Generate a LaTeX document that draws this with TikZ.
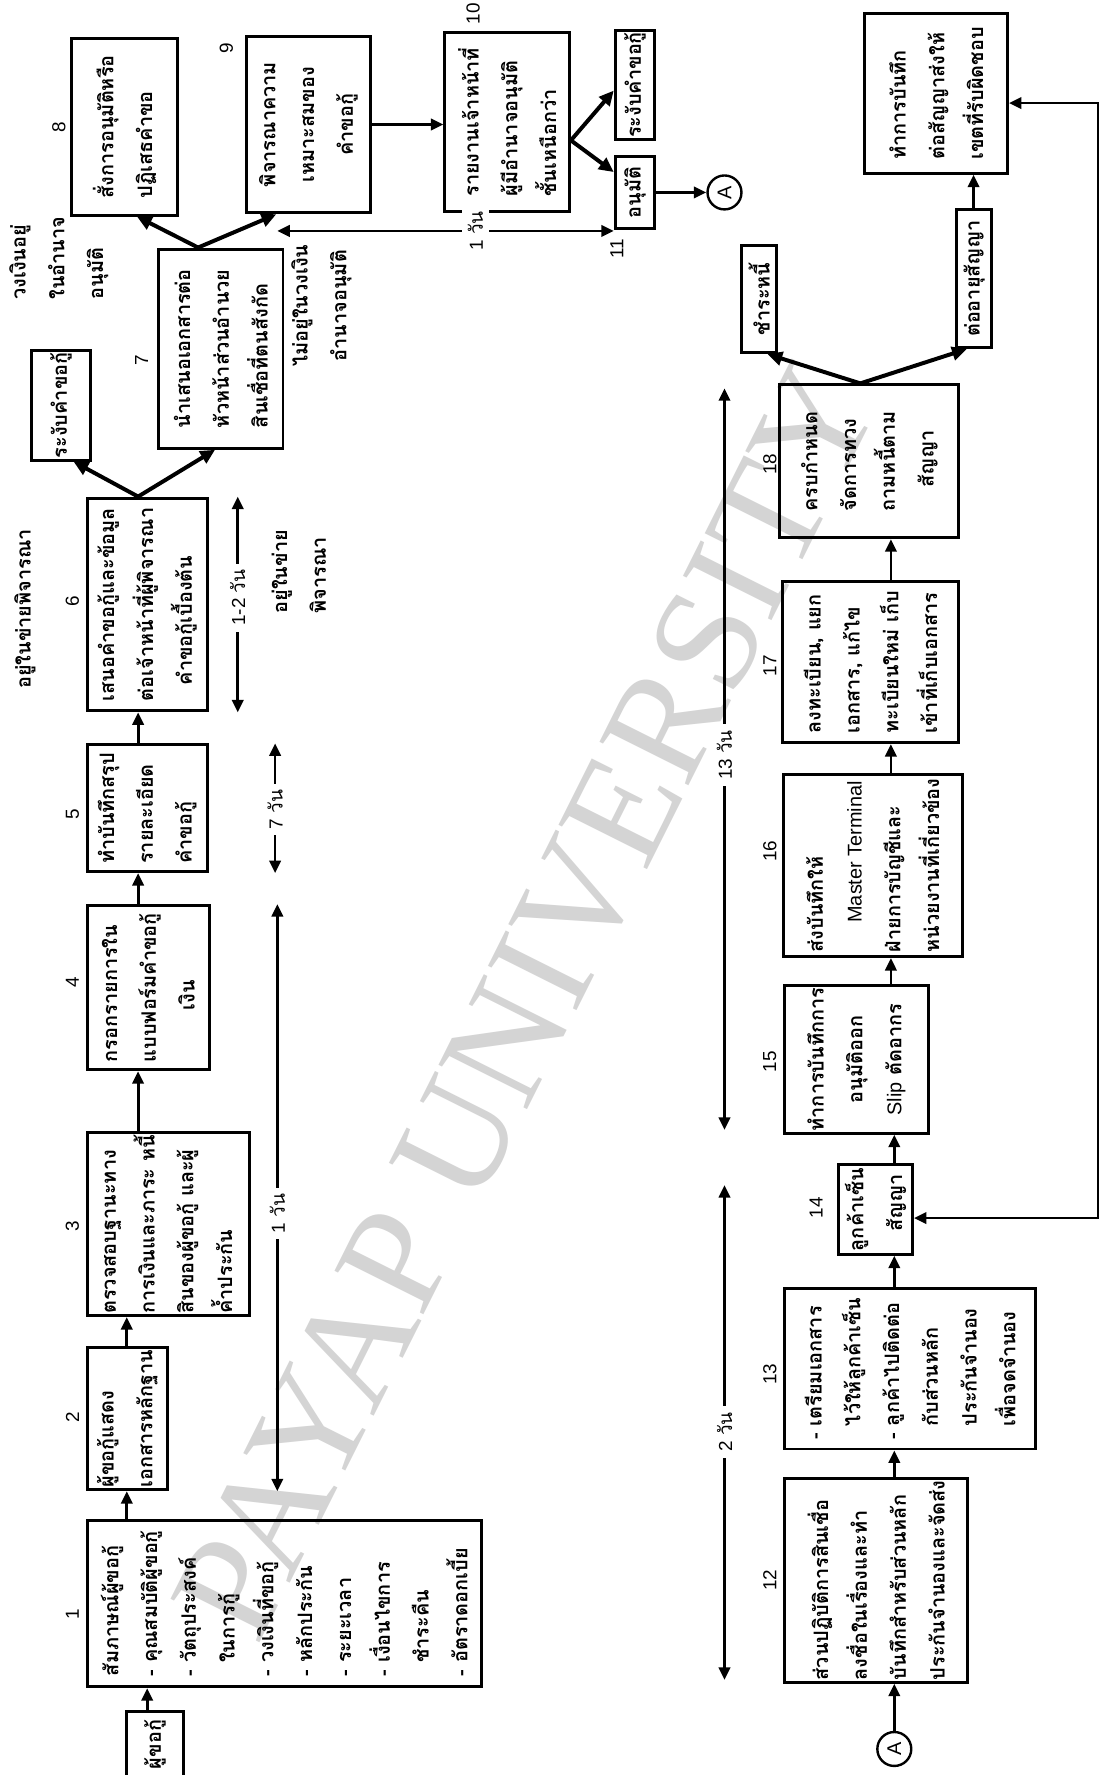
\documentclass[tikz,border=0pt]{standalone}
\usepackage{fontspec}
\setmainfont{Liberation Sans}
\newfontfamily\thai[Script=Thai]{Loma}
\newfontfamily\wmserif{Liberation Serif}
\usetikzlibrary{arrows.meta}
\begin{document}
\begin{tikzpicture}[x=0.02cm,y=-0.02cm,
  wh/.style 2 args={minimum height=#1*0.02cm, minimum width=#2*0.02cm},
  box/.style={draw, line width=1.5pt, rotate=90, inner sep=1pt, align=left,
    font=\thai\bfseries\fontsize{10}{19.5}\selectfont},
  cbox/.style={box, align=center},
  num/.style={rotate=90, inner sep=0pt, font=\fontsize{9.5}{9.5}\selectfont},
  ftxt/.style={rotate=90, inner sep=0pt, align=left, font=\thai\bfseries\fontsize{10}{19.5}\selectfont},
  tlab/.style={rotate=90, fill=white, inner sep=3pt, font=\fontsize{9.5}{9.5}\selectfont},
  circ/.style={circle, draw, line width=1.2pt, minimum size=0.6cm, inner sep=0pt, rotate=90, font=\fontsize{10}{10}\selectfont},
  arr/.style={line width=1.4pt, -{Triangle[length=0.22cm,width=0.2cm]}},
  farr/.style={line width=2pt, -{Triangle[length=0.26cm,width=0.24cm]}},
  darr/.style={line width=1.4pt, {Triangle[length=0.22cm,width=0.2cm]}-{Triangle[length=0.22cm,width=0.2cm]}},
]
\fill[white] (0,0) rectangle (983,1568);
\useasboundingbox (0,0) rectangle (983,1568);

% watermark
\node[rotate=63.4, text=black!17, font=\wmserif\fontsize{76}{76}\selectfont] (wm) at (465,885) {PAYAP UNIVERSITY};

% helper coordinates
\foreach \v in {65,112,121,122,130,175,190,210,243,244,245,640,678,760,787,790,854,860,970}
  \coordinate (x\v) at (\v,0);
\foreach \v in {80,91,110,124,152,170,204,1076}
  \coordinate (y\v) at (0,\v);

% ---------- upper row ----------
\node[box, wh={50}{58}] (n0) at (137,1541) {ผู้ขอกู้};
\node[box, wh={348}{147}] (b1) at (251,1416.5) {สัมภาษณ์ผู้ขอกู้\\
- คุณสมบัติผู้ขอกู้\\
- วัตถุประสงค์\\
\phantom{- }ในการกู้\\
- วงเงินที่ขอกู้\\
- หลักประกัน\\
- ระยะเวลา\\
- เงื่อนไขการ\\
\phantom{- }ชำระคืน\\
- อัตราดอกเบี้ย};
\node[box, wh={71}{126}] (b2) at (112.5,1253) {ผู้ขอกู้แสดง\\เอกสารหลักฐาน};
\node[box, wh={143}{157}] (b3) at (148.5,1081.5) {ตรวจสอบฐานะทาง\\การเงินและภาระ หนี้\\สินของผู้ขอกู้ และผู้\\ค้ำประกัน};
\node[box, wh={108}{145}] (b4) at (131,872.5) {กรอกรายการใน\\แบบฟอร์มคำขอกู้\\\hspace*{2.6em}เงิน};
\node[box, wh={106}{112}] (b5) at (130,714) {ทำบันทึกสรุป\\รายละเอียด\\คำขอกู้};
\node[box, wh={106}{188}] (b6) at (130,534) {เสนอคำขอกู้และข้อมูล\\ต่อเจ้าหน้าที่ผู้พิจารณา\\\hspace*{0.8em}คำขอกู้เบื้องต้น};
\node[box, wh={52}{78}] (r1) at (54,358) {ระงับคำขอกู้};
\node[box, wh={110}{176}] (b7) at (195,308) {นำเสนอเอกสารต่อ\\หัวหน้าส่วนอำนวย\\สินเชื่อที่ตนสังกัด};
\node[box, wh={94}{156}] (b8) at (110,112) {สั่งการอนุมัติหรือ\\ปฏิเสธคำขอ};
\node[cbox, wh={109}{156}] (b9) at (272.5,110) {พิจารณาความ\\เหมาะสมของ\\คำขอกู้};
\node[box, wh={110}{158}] (b10) at (448,108) {รายงานเจ้าหน้าที่\\ผู้มีอำนาจอนุมัติ\\ชั้นเหนือกว่า};
\node[box, wh={35}{64}] (b11) at (561,170) {อนุมัติ};
\node[box, wh={35}{92}] (r2) at (561,75) {ระงับคำขอกู้};
\node[circ] (A1) at (640,170) {A};

% numbers upper
\node[num] (l1) at (64,1426) {1};
\node[num] (l2) at (64,1252) {2};
\node[num] (l3) at (64,1083) {3};
\node[num] (l4) at (64,868) {4};
\node[num] (l5) at (64,719) {5};
\node[num] (l6) at (64,531) {6};
\node[num] (l7) at (125,318) {7};
\node[num] (l8) at (52,112) {8};
\node[num] (l9) at (200,43) {9};
\node[num] (l10) at (418,12) {10};
\node[num] (l11) at (545,220) {11};

% free texts
\node[ftxt] (t1) at (22,538) {อยู่ในข่ายพิจารณา};
\node[ftxt] (t2) at (264,505) {อยู่ในข่าย\\พิจารณา};
\node[ftxt] (t3) at (52,228) {วงเงินอยู่\\ในอำนาจ\\อนุมัติ};
\node[ftxt, align=center] (t4) at (284,270) {ไม่อยู่ในวงเงิน\\อำนาจอนุมัติ};

% upper connectors
\draw[arr] (x130 |- n0.east) -- (x130 |- b1.west);
\draw[arr] (x112 |- b1.east) -- (x112 |- b2.west);
\draw[arr] (x112 |- b2.east) -- (x112 |- b3.west);
\draw[arr] (x122 |- b3.east) -- (x122 |- b4.west);
\draw[arr] (x122 |- b4.east) -- (x122 |- b5.west);
\draw[arr] (x122 |- b5.east) -- (x122 |- b6.west);
\draw[farr] (x122 |- b6.east) -- (x65 |- r1.west);
\draw[farr] (x122 |- b6.east) -- (x190 |- b7.west);
\draw[farr] (x175 |- b7.east) -- (x121 |- b8.west);
\draw[farr] (x175 |- b7.east) -- (x244 |- b9.west);
\draw[arr] (b9.south |- y110) -- (b10.north |- y110);
\draw[farr] (b10.south |- y124) -- (r2.north |- y80);
\draw[farr] (b10.south |- y124) -- (b11.north |- y152);
\draw[arr] (b11.south) -- (A1.north);

% upper time spans
\draw[darr] (x245 |- b4.east) -- (x245 |- b2.west);
\node[tlab] (d1) at (245,1072) {1 {\thai วัน}};
\draw[darr] (x243 |- b5.east) -- (x243 |- b5.west);
\node[tlab] (d2) at (243,715) {7 {\thai วัน}};
\draw[darr] (x210 |- b6.east) -- (x210 |- b6.west);
\node[tlab] (d3) at (210,528) {1-2 {\thai วัน}};
\coordinate (d6a) at (245,204);
\draw[darr] (d6a) -- (b11.north |- y204);
\node[tlab] (d6) at (420,204) {1 {\thai วัน}};

% ---------- lower row ----------
\node[circ] (A2) at (790,1545) {A};
\node[box, wh={162}{168}] (b12) at (774,1396) {ส่วนปฏิบัติการสินเชื่อ\\ลงชื่อในเรื่องและทำ\\บันทึกสำหรับส่วนหลัก\\ประกันจำนองและจัดส่ง};
\node[box, wh={222}{142}] (b13) at (804,1209) {- เตรียมเอกสาร\\\phantom{- }ไว้ให้ลูกค้าเซ็น\\- ลูกค้าไปติดต่อ\\\phantom{- }กับส่วนหลัก\\\phantom{- }ประกันจำนอง\\\phantom{- }เพื่อจดจำนอง};
\node[box, wh={65}{79}] (b14) at (773.5,1068.5) {ลูกค้าเซ็น\\\hspace*{1em}สัญญา};
\node[cbox, wh={127}{126}] (b15) at (756.5,936) {ทำการบันทึกการ\\อนุมัติออก\\{\mdseries\fontspec{Liberation Sans}Slip} ตัดอากร};
\node[box, wh={158}{161}] (b16) at (771,764.5) {ส่งบันทึกให้\\\hspace*{1.5em}{\mdseries\fontspec{Liberation Sans}Master Terminal}\\ฝ่ายการบัญชีและ\\หน่วยงานที่เกี่ยวข้อง};
\node[box, wh={156}{142}] (b17) at (769,585) {ลงทะเบียน, แยก\\เอกสาร, แก้ไข\\ทะเบียนใหม่ เก็บ\\เข้าที่เก็บเอกสาร};
\node[box, wh={158}{135}] (b18) at (768,407.5) {ครบกำหนด\\จัดการทวง\\ถามหนี้ตาม\\\hspace*{1.2em}สัญญา};
\node[box, wh={31}{95}] (r3) at (670.5,264) {ชำระหนี้};
\node[box, wh={31}{122}] (r4) at (860.5,246) {ต่ออายุสัญญา};
\node[box, wh={126}{141}] (b19) at (827,82.5) {ทำการบันทึก\\ต่อสัญญาส่งให้\\เขตที่รับผิดชอบ};

% numbers lower
\node[num] (l12) at (680,1396) {12};
\node[num] (l13) at (680,1214) {13};
\node[num] (l14) at (721,1067) {14};
\node[num] (l15) at (680,938) {15};
\node[num] (l16) at (680,752) {16};
\node[num] (l17) at (680,588) {17};
\node[num] (l18) at (680,410) {18};

% lower connectors
\draw[arr] (A2.east) -- (A2.east |- b12.west);
\draw[arr] (x790 |- b12.east) -- (x790 |- b13.west);
\draw[arr] (x790 |- b13.east) -- (x790 |- b14.west);
\draw[arr] (x790 |- b14.east) -- (x790 |- b15.west);
\draw[arr] (x787 |- b15.east) -- (x787 |- b16.west);
\draw[arr] (x787 |- b16.east) -- (x787 |- b17.west);
\draw[arr] (x787 |- b17.east) -- (x787 |- b18.west);
\draw[farr] (x760 |- b18.east) -- (x678 |- r3.west);
\draw[farr] (x760 |- b18.east) -- (x854 |- r4.west);
\draw[arr] (x860 |- r4.east) -- (x860 |- b19.west);
\draw[darr] (b19.south |- y91) -- (x970 |- y91) -- (x970 |- y1076) -- (b14.south |- y1076);

% lower time spans
\coordinate (d4a) at (640,1047);
\coordinate (d4b) at (640,1484);
\draw[darr] (d4a) -- (d4b);
\node[tlab] (d4) at (640,1265) {2 {\thai วัน}};
\coordinate (d5a) at (640,343);
\coordinate (d5b) at (640,998);
\draw[darr] (d5a) -- (d5b);
\node[tlab] (d5) at (640,667) {13 {\thai วัน}};
\end{tikzpicture}
\end{document}
